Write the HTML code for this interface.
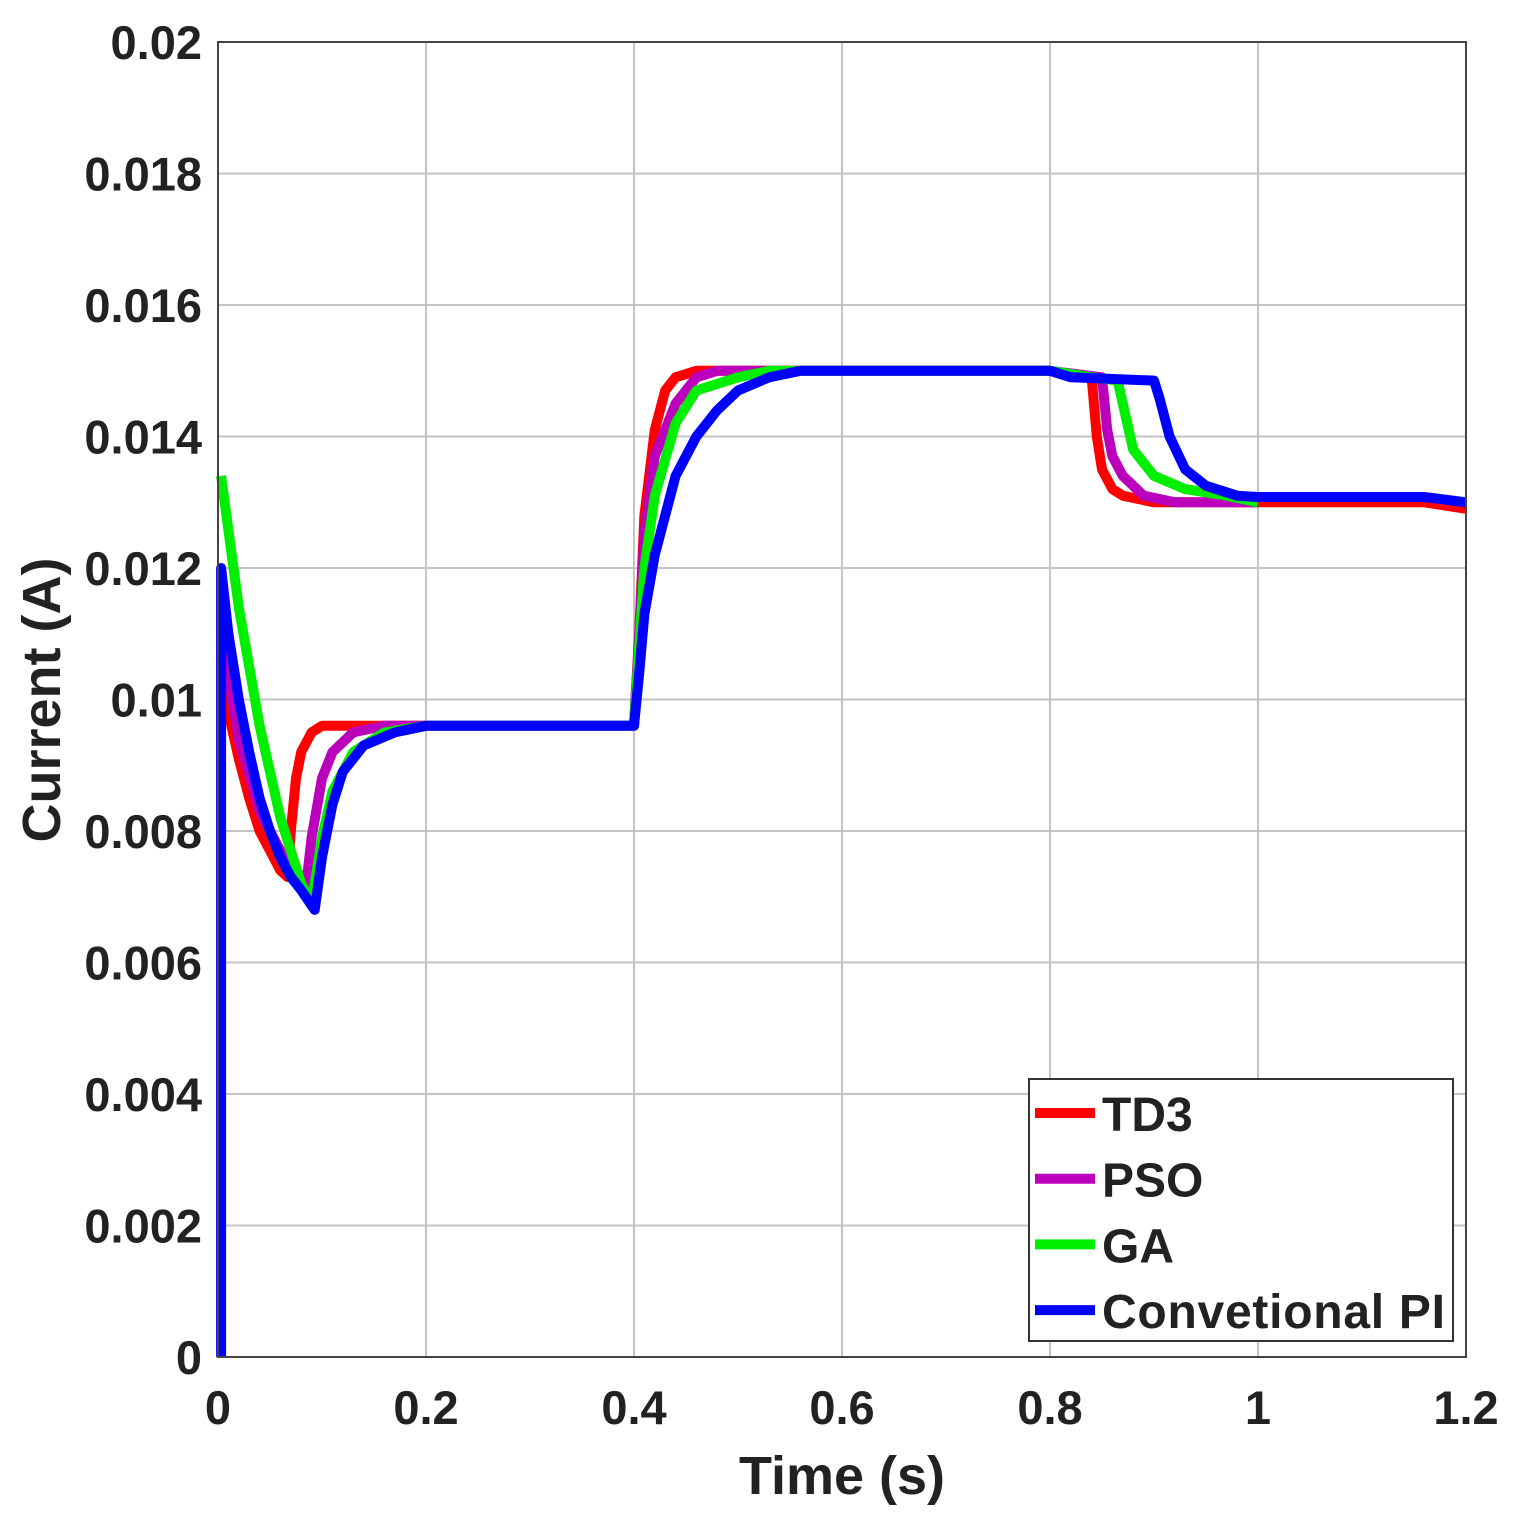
<!DOCTYPE html>
<html><head><meta charset="utf-8"><style>
body{margin:0;background:#fff}
svg text{font-family:"Liberation Sans",Arial,sans-serif;font-weight:bold;fill:#222}
</style></head><body>
<svg id="chart" width="1523" height="1523" viewBox="0 0 1523 1523" xmlns="http://www.w3.org/2000/svg">
<rect width="1523" height="1523" fill="#fff"/>
<g id="grid"></g><g id="ticks"></g><g id="series"></g>
<rect x="218" y="42" width="1248" height="1315" fill="none" stroke="#444" stroke-width="2"/>
<text x="842" y="1494" font-size="54" text-anchor="middle">Time (s)</text>
<text transform="translate(60,700) rotate(-90)" font-size="54" text-anchor="middle">Current (A)</text>
<g>
<rect x="1029" y="1079" width="424" height="262" fill="#fff" stroke="#333" stroke-width="2"/>
<g id="legend"></g>
</g>
</svg>
<script>
const xTicks=[0,0.2,0.4,0.6,0.8,1,1.2];
const xTickLabels=["0","0.2","0.4","0.6","0.8","1","1.2"];
const yTicks=[0,0.002,0.004,0.006,0.008,0.01,0.012,0.014,0.016,0.018,0.02];
const yTickLabels=["0","0.002","0.004","0.006","0.008","0.01","0.012","0.014","0.016","0.018","0.02"];
const seriesNames=["TD3","PSO","GA","Convetional PI"];
const td3=[[0.003,0.0106],[0.01,0.0098],[0.02,0.0091],[0.03,0.0085],[0.04,0.0080],[0.05,0.0077],[0.06,0.0074],[0.067,0.0073],[0.07,0.0080],[0.075,0.0088],[0.08,0.0092],[0.09,0.0095],[0.1,0.0096],[0.12,0.0096],[0.4,0.0096],[0.405,0.0110],[0.41,0.0128],[0.42,0.0141],[0.43,0.0147],[0.44,0.0149],[0.46,0.0150],[0.8,0.0150],[0.84,0.0149],[0.845,0.0140],[0.85,0.0135],[0.86,0.0132],[0.87,0.0131],[0.9,0.0130],[1.16,0.0130],[1.2,0.0129]];
const pso=[[0.004,0.0110],[0.02,0.0094],[0.04,0.0083],[0.06,0.0077],[0.075,0.0074],[0.085,0.0072],[0.09,0.0079],[0.1,0.0088],[0.11,0.0092],[0.13,0.0095],[0.16,0.0096],[0.4,0.0096],[0.405,0.0110],[0.41,0.0125],[0.42,0.0137],[0.44,0.0145],[0.46,0.0149],[0.48,0.0150],[0.8,0.0150],[0.85,0.0149],[0.855,0.0141],[0.86,0.0137],[0.87,0.0134],[0.89,0.0131],[0.92,0.0130],[1.0,0.0130]];
const ga=[[0.003,0.0134],[0.02,0.0114],[0.04,0.0096],[0.06,0.0082],[0.08,0.0072],[0.09,0.0069],[0.1,0.0079],[0.11,0.0086],[0.13,0.0092],[0.16,0.0095],[0.2,0.0096],[0.4,0.0096],[0.405,0.0108],[0.41,0.0120],[0.42,0.0131],[0.44,0.0142],[0.46,0.0147],[0.5,0.0149],[0.53,0.0150],[0.8,0.0150],[0.84,0.0149],[0.865,0.01485],[0.87,0.0145],[0.88,0.0138],[0.9,0.0134],[0.93,0.0132],[0.97,0.0131],[1.0,0.0130]];
const pi=[[0.003,0],[0.003,0.0120],[0.01,0.0110],[0.02,0.0100],[0.03,0.0092],[0.04,0.0085],[0.05,0.0080],[0.06,0.0076],[0.07,0.0073],[0.08,0.0071],[0.093,0.0068],[0.1,0.0076],[0.11,0.0084],[0.12,0.0089],[0.14,0.0093],[0.17,0.0095],[0.2,0.0096],[0.4,0.0096],[0.405,0.0104],[0.41,0.0113],[0.42,0.0122],[0.44,0.0134],[0.46,0.0140],[0.48,0.0144],[0.5,0.0147],[0.53,0.0149],[0.56,0.0150],[0.8,0.0150],[0.82,0.0149],[0.9,0.01485],[0.905,0.0146],[0.915,0.0140],[0.93,0.0135],[0.95,0.01325],[0.98,0.0131],[1.0,0.01308],[1.16,0.01308],[1.2,0.0130]];
const seriesData=[td3,pso,ga,pi];
const colors=["#ff0000","#bb00bb","#00ee00","#0000ff"];
const NS="http://www.w3.org/2000/svg";
const X=t=>218+t/1.2*1248, Y=v=>1357-v/0.02*1315;
const grid=document.getElementById('grid'),ticks=document.getElementById('ticks');
xTicks.forEach((t,i)=>{
 const l=document.createElementNS(NS,'line');
 
 
 l.setAttribute('x1',X(t));l.setAttribute('x2',X(t));l.setAttribute('y1',42);l.setAttribute('y2',1357);
 l.setAttribute('stroke','#c4c4c4');l.setAttribute('stroke-width','2');grid.appendChild(l);
 const tx=document.createElementNS(NS,'text');
 
 
 tx.setAttribute('x',X(t));tx.setAttribute('y',1424);tx.setAttribute('font-size','47');tx.setAttribute('text-anchor','middle');
 tx.textContent=xTickLabels[i];ticks.appendChild(tx);
});
yTicks.forEach((v,i)=>{
 const l=document.createElementNS(NS,'line');
 
 
 l.setAttribute('x1',218);l.setAttribute('x2',1466);l.setAttribute('y1',Y(v));l.setAttribute('y2',Y(v));
 l.setAttribute('stroke','#c4c4c4');l.setAttribute('stroke-width','2');grid.appendChild(l);
 const tx=document.createElementNS(NS,'text');
 
 
 tx.setAttribute('x',202);tx.setAttribute('y',Y(v)+17);tx.setAttribute('font-size','47');tx.setAttribute('text-anchor','end');
 tx.textContent=yTickLabels[i];ticks.appendChild(tx);
});
const sg=document.getElementById('series'),lg=document.getElementById('legend');
seriesData.forEach((d,i)=>{
 const p=document.createElementNS(NS,'polyline');
 
 
 p.setAttribute('points',d.map(q=>X(q[0]).toFixed(1)+','+Y(q[1]).toFixed(1)).join(' '));
 p.setAttribute('fill','none');p.setAttribute('stroke',colors[i]);p.setAttribute('stroke-width','10');
 p.setAttribute('stroke-linejoin','round');sg.appendChild(p);
 const y=1113+i*65.7;
 const l=document.createElementNS(NS,'line');
 
 
 l.setAttribute('x1',1035);l.setAttribute('x2',1095);l.setAttribute('y1',y);l.setAttribute('y2',y);
 l.setAttribute('stroke',colors[i]);l.setAttribute('stroke-width','10');lg.appendChild(l);
 const tx=document.createElementNS(NS,'text');
 
 
 tx.setAttribute('x',1102);tx.setAttribute('y',y+18);tx.setAttribute('font-size','48');
 tx.setAttribute('textLength',seriesNames[i].length>5?'343':'');
 if(seriesNames[i].length<=5) tx.removeAttribute('textLength');
 tx.textContent=seriesNames[i];lg.appendChild(tx);
});
</script>
</body></html>
